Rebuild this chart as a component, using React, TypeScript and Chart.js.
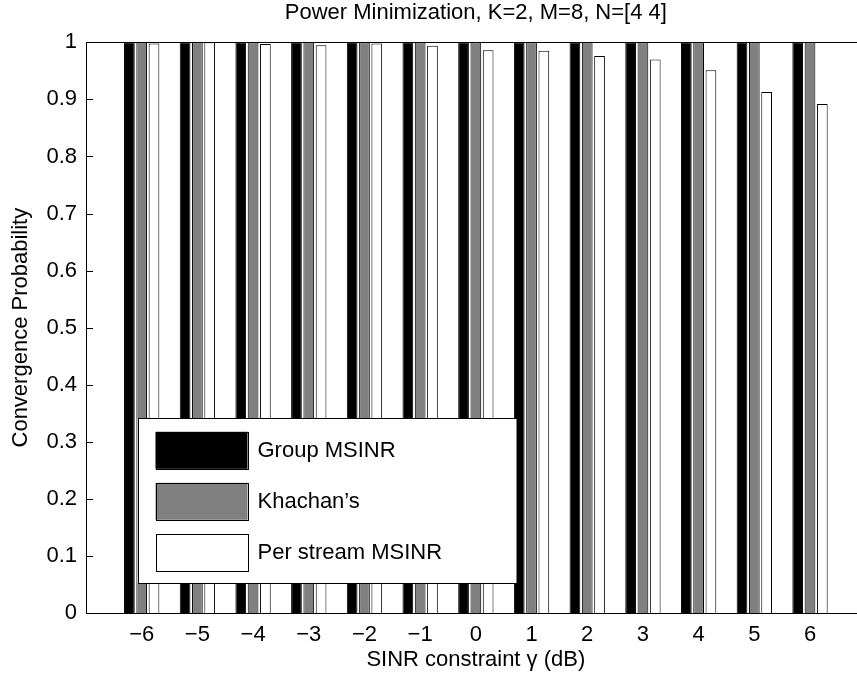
import React, { useEffect, useRef } from "react";
import { Chart, registerables } from "chart.js";

Chart.register(...registerables);

const categories = [-6, -5, -4, -3, -2, -1, 0, 1, 2, 3, 4, 5, 6];
const seriesNames = ["Group MSINR", "Khachan\u2019s", "Per stream MSINR"];
const groupMSINR = [1, 1, 1, 1, 1, 1, 1, 1, 1, 1, 1, 1, 1];
const khachans = [1, 1, 1, 1, 1, 1, 1, 1, 1, 1, 1, 1, 1];
const perStreamMSINR = [0.998, 1.0, 0.997, 0.995, 0.998, 0.994, 0.986, 0.985, 0.976, 0.97, 0.951, 0.913, 0.892];
const seriesColors = ["#000000", "#808080", "#ffffff"];
const yTickValues = [0, 0.1, 0.2, 0.3, 0.4, 0.5, 0.6, 0.7, 0.8, 0.9, 1];
const titleText = "Power Minimization, K=2, M=8, N=[4 4]";
const xTitle = "SINR constraint \u03b3 (dB)";
const yTitle = "Convergence Probability";

const FONT = "'Liberation Sans', Arial, Helvetica, sans-serif";

const frameAndLegend = {
  id: "frameAndLegend",
  afterDatasetsDraw(chart: any) {
    const { ctx, chartArea, scales } = chart;
    const { left, top, right, bottom } = chartArea;
    ctx.save();
    ctx.strokeStyle = "#000";
    ctx.lineWidth = 1;
    ctx.beginPath();
    yTickValues.forEach((v) => {
      const y = Math.round(scales.y.getPixelForValue(v)) + 0.5;
      ctx.moveTo(left, y);
      ctx.lineTo(left + 7, y);
    });
    ctx.stroke();
    ctx.beginPath();
    ctx.rect(Math.round(left) + 0.5, Math.round(top) + 0.5, Math.round(right - left), Math.round(bottom - top));
    ctx.stroke();

    const bx = left + 51.5;
    const by = top + 376;
    const bw = 379;
    const bh = 165;
    ctx.fillStyle = "#fff";
    ctx.fillRect(bx, by, bw, bh);
    ctx.strokeRect(Math.round(bx) + 0.5, Math.round(by) + 0.5, bw, bh);
    ctx.font = `22px ${FONT}`;
    ctx.textBaseline = "middle";
    ctx.textAlign = "left";
    chart.data.datasets.forEach((ds: any, i: number) => {
      const cy = by + 32 + i * 51;
      const sx = bx + 18;
      const sw = 92;
      const sh = 37;
      ctx.fillStyle = ds.backgroundColor;
      ctx.fillRect(sx, cy - sh / 2, sw, sh);
      ctx.strokeStyle = "#000";
      ctx.strokeRect(Math.round(sx) + 0.5, Math.round(cy - sh / 2) + 0.5, sw, sh);
      ctx.fillStyle = "#000";
      ctx.fillText(ds.label, sx + sw + 10, cy + 1);
    });
    ctx.restore();
  },
};

export default function App() {
  const canvasRef = useRef<HTMLCanvasElement | null>(null);

  useEffect(() => {
    if (!canvasRef.current) return;
    Chart.defaults.font.family = FONT;
    Chart.defaults.color = "#000";
    const allSeries = [groupMSINR, khachans, perStreamMSINR];
    const chart = new Chart(canvasRef.current, {
      type: "bar",
      data: {
        datasets: allSeries.map((vals, i) => ({
          label: seriesNames[i],
          data: categories.map((c, j) => ({ x: c, y: vals[j] })),
          backgroundColor: seriesColors[i],
          borderColor: "#000",
          borderWidth: 1,
          borderSkipped: "bottom",
          categoryPercentage: 0.663,
          barPercentage: 0.87,
        })),
      },
      options: {
        animation: false,
        responsive: false,
        devicePixelRatio: 1,
        layout: { padding: { left: 0, right: 34.3, top: 0, bottom: 0 } },
        plugins: {
          legend: { display: false },
          tooltip: { enabled: false },
          title: {
            display: true,
            text: titleText,
            fullSize: false,
            color: "#000",
            font: { size: 22, family: FONT, weight: "normal", lineHeight: 1 },
            padding: { top: 2, bottom: 18.3 },
          },
        },
        scales: {
          x: {
            type: "linear",
            min: -7,
            max: 7,
            offset: false,
            grid: { display: false, drawTicks: false, offset: false },
            border: { display: false },
            afterBuildTicks: (scale: any) => {
              scale.ticks = categories.map((v) => ({ value: v }));
            },
            afterFit: (scale: any) => {
              scale.height = 70;
            },
            ticks: {
              autoSkip: false,
              maxRotation: 0,
              padding: 9,
              font: { size: 22, family: FONT },
              callback: (v: any) => (v < 0 ? "\u2212" + Math.abs(v) : String(v)),
            },
            title: {
              display: true,
              text: xTitle,
              font: { size: 22, family: FONT },
              padding: { top: 0, bottom: 10 },
            },
          },
          y: {
            min: 0,
            max: 1,
            grid: { display: false, drawTicks: false },
            border: { display: false },
            afterBuildTicks: (scale: any) => {
              scale.ticks = yTickValues.map((v) => ({ value: v }));
            },
            afterFit: (scale: any) => {
              scale.width = 86;
            },
            ticks: {
              padding: 9,
              font: { size: 22, family: FONT },
              callback: (v: any) => (v === 0 ? "0" : v === 1 ? "1" : Number(v).toFixed(1)),
            },
            title: {
              display: true,
              text: yTitle,
              font: { size: 22, family: FONT },
              padding: { top: 8, bottom: 0 },
            },
          },
        },
      },
      plugins: [frameAndLegend],
    } as any);
    return () => chart.destroy();
  }, []);

  return (
    <div style={{ position: "absolute", left: 0, top: 0, width: 857, height: 683, overflow: "hidden", background: "#fff" }}>
      <canvas ref={canvasRef} width={900} height={683} style={{ width: 900, height: 683, display: "block" }} />
    </div>
  );
}
